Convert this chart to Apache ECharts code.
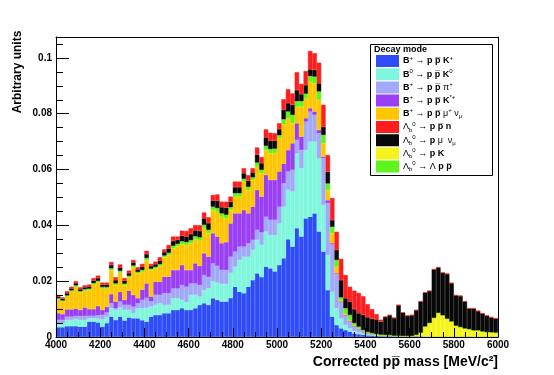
<!DOCTYPE html>
<html>
<head>
<meta charset="utf-8">
<script src="https://cdn.jsdelivr.net/npm/echarts@6/dist/echarts.min.js"></script>
<style>
  html, body { margin: 0; padding: 0; background: #fff; }
  #chart { width: 554px; height: 375px; }
</style>
</head>
<body>
<div id="chart"></div>
<script>
// histogram: 100 bins of 20 MeV from 4000 to 6000, one stacked layer per decay mode
var binStart = 4000, binWidth = 20, nBins = 100;
var binLabels = [];
for (var i = 0; i < nBins; i++) binLabels.push(String(binStart + binWidth * i + binWidth / 2));

var xTicks = [4000, 4200, 4400, 4600, 4800, 5000, 5200, 5400, 5600, 5800, 6000];
var yTicks = [0, 0.02, 0.04, 0.06, 0.08, 0.1];

var bpK = [
  .0035,.0035,.0039,.0039,.0039,.0037,.0037,.0055,.0055,.0052,
  .0037,.0050,.0073,.0061,.0073,.0059,.0070,.0067,.0067,.0060,
  .0055,.0073,.0079,.0079,.0085,.0085,.0097,.0097,.0103,.0097,
  .0097,.0103,.0115,.0121,.0115,.0139,.0133,.0127,.0127,.0140,
  .0180,.0162,.0157,.0180,.0204,.0228,.0215,.0252,.0246,.0235,
  .0258,.0282,.0350,.0324,.0390,.0360,.0425,.0431,.0443,.0378,
  .0306,.0168,.0073,.0043,.0031,.0025,.0019,.0013,.0010,.0008,
  .0006,.0005,.0004,.0003,.0003,.0003,.0002,.0002,.0002,.0002,
  .0002,.0002,.0001,.0001,.0001,.0001,.0001,.0001,.0001,.0001,
  .0001,.0001,.0001,.0001,.0001,.0001,.0001,.0001,.0001,.0001
];
var bpK0 = [
  .0014,.0014,.0022,.0022,.0026,.0024,.0024,.0012,.0012,.0014,
  .0026,.0022,.0030,.0036,.0033,.0038,.0027,.0018,.0036,.0043,
  .0050,.0036,.0036,.0042,.0030,.0030,.0042,.0042,.0030,.0028,
  .0054,.0048,.0030,.0047,.0060,.0061,.0062,.0063,.0063,.0090,
  .0072,.0114,.0131,.0108,.0108,.0120,.0115,.0126,.0119,.0130,
  .0149,.0185,.0177,.0197,.0268,.0245,.0245,.0269,.0257,.0262,
  .0167,.0126,.0089,.0060,.0036,.0018,.0012,.0008,.0006,.0004,
  .0003,.0002,.0002,.0002,.0001,.0001,.0001,.0001,.0001,.0001,
  .0001,.0001,.0001,0,0,0,0,0,0,0,
  0,0,0,0,0,0,0,0,0,0
];
var bpPi = [
  .0012,.0012,.0012,.0012,.0010,.0014,.0014,.0009,.0009,.0012,
  .0016,.0016,.0018,.0006,.0021,.0018,.0018,.0024,.0018,.0030,
  .0035,.0019,.0036,.0030,.0042,.0042,.0035,.0035,.0053,.0055,
  .0041,.0041,.0041,.0054,.0040,.0064,.0060,.0050,.0050,.0058,
  .0054,.0048,.0036,.0048,.0036,.0036,.0045,.0053,.0055,.0055,
  .0060,.0084,.0066,.0078,.0048,.0065,.0102,.0108,.0096,.0090,
  .0168,.0186,.0170,.0125,.0060,.0035,.0026,.0018,.0014,.0010,
  .0007,.0005,.0004,.0003,.0003,.0002,.0002,.0002,.0001,.0001,
  .0001,.0001,.0001,0,0,0,0,0,0,0,
  0,0,0,0,0,0,0,0,0,0
];
var bpKst = [
  .0024,.0021,.0026,.0026,.0027,.0022,.0031,.0024,.0024,.0033,
  .0018,.0020,.0033,.0024,.0035,.0018,.0051,.0042,.0018,.0037,
  .0052,.0017,.0047,.0047,.0059,.0059,.0066,.0066,.0072,.0060,
  .0048,.0072,.0069,.0078,.0073,.0108,.0105,.0096,.0100,.0119,
  .0137,.0119,.0131,.0107,.0119,.0143,.0128,.0150,.0143,.0143,
  .0126,.0070,.0077,.0095,.0060,.0048,.0012,.0012,.0012,.0012,
  .0005,.0010,.0004,0,0,0,0,0,0,0,
  0,0,0,0,0,0,0,0,0,0,
  0,0,0,0,0,0,0,0,0,0,
  0,0,0,0,0,0,0,0,0,0
];
var bpMuNu = [
  .0050,.0045,.0046,.0064,.0078,.0063,.0060,.0068,.0088,.0085,
  .0077,.0066,.0086,.0059,.0069,.0053,.0048,.0099,.0089,.0064,
  .0084,.0095,.0048,.0056,.0070,.0078,.0078,.0086,.0075,.0090,
  .0096,.0086,.0090,.0090,.0084,.0083,.0089,.0095,.0085,.0048,
  .0060,.0060,.0102,.0084,.0096,.0084,.0084,.0089,.0095,.0097,
  .0119,.0141,.0114,.0072,.0059,.0108,.0071,.0095,.0101,.0108,
  .0048,.0036,.0036,.0024,.0005,.0005,.0004,.0003,.0002,.0001,
  0,0,0,0,0,0,0,0,0,0,
  0,0,0,0,0,0,0,0,0,0,
  0,0,0,0,0,0,0,0,0,0
];
var lbpK = [
  0,0,0,0,0,0,0,0,0,0,
  0,0,0,0,0,0,0,0,0,0,
  0,0,0,0,0,0,0,0,0,0,
  0,0,0,0,0,0,0,0,0,0,
  0,0,0,0,0,0,0,0,0,0,
  0,0,0,0,0,0,0,0,0,0,
  0,0,0,0,0,0,0,0,0,0,
  0,0,0,0,0,0,0,0,0,0,
  0,.0004,.0013,.0037,.0050,.0068,.0086,.0077,.0065,.0055,
  .0040,.0035,.0030,.0027,.0023,.0023,.0019,.0017,.0016,.0015
];
var lbLpp = [
  .0004,.0004,.0004,.0004,.0005,.0004,.0005,.0005,.0005,.0005,
  .0005,.0005,.0006,.0006,.0006,.0005,.0005,.0006,.0005,.0006,
  .0007,.0005,.0005,.0007,.0006,.0008,.0009,.0008,.0010,.0010,
  .0011,.0011,.0012,.0012,.0012,.0012,.0013,.0012,.0013,.0010,
  .0012,.0012,.0010,.0011,.0009,.0014,.0012,.0015,.0015,.0015,
  .0011,.0018,.0024,.0030,.0020,.0019,.0017,.0020,.0024,.0030,
  .0030,.0024,.0023,.0024,.0010,.0020,.0018,.0008,.0005,.0002,
  .0002,.0002,.0001,.0001,.0001,.0001,0,0,0,0,
  0,0,0,0,0,0,0,0,0,0,
  0,0,0,0,0,0,0,0,0,0
];
var lbpMuNu = [
  .0006,.0006,.0008,.0007,.0008,.0007,.0007,.0008,.0009,.0010,
  .0008,.0008,.0012,.0012,.0012,.0011,.0010,.0011,.0009,.0012,
  .0014,.0009,.0010,.0013,.0012,.0015,.0017,.0014,.0020,.0020,
  .0022,.0021,.0023,.0023,.0024,.0022,.0026,.0022,.0025,.0020,
  .0022,.0022,.0020,.0022,.0018,.0028,.0024,.0030,.0030,.0028,
  .0022,.0034,.0030,.0036,.0040,.0025,.0031,.0024,.0024,.0029,
  .0030,.0042,.0024,.0036,.0062,.0036,.0048,.0050,.0048,.0055,
  .0053,.0051,.0052,.0046,.0064,.0071,.0063,.0109,.0083,.0072,
  .0074,.0088,.0111,.0121,.0114,.0173,.0162,.0152,.0160,.0137,
  .0108,.0111,.0096,.0074,.0078,.0069,.0064,.0058,.0053,.0050
];
var lbppn = [
  .0006,.0005,.0007,.0006,.0007,.0007,.0007,.0007,.0009,.0009,
  .0008,.0008,.0011,.0010,.0011,.0009,.0009,.0009,.0008,.0010,
  .0012,.0008,.0009,.0012,.0010,.0013,.0016,.0012,.0018,.0020,
  .0021,.0019,.0021,.0021,.0021,.0020,.0023,.0020,.0022,.0018,
  .0020,.0020,.0018,.0020,.0015,.0026,.0022,.0029,.0029,.0027,
  .0021,.0038,.0050,.0041,.0064,.0037,.0050,.0066,.0060,.0074,
  .0078,.0060,.0079,.0065,.0076,.0083,.0053,.0066,.0073,.0066,
  .0047,.0035,.0019,.0007,.0001,.0001,.0001,.0001,.0001,.0001,
  .0001,.0001,.0001,.0001,.0001,.0001,.0001,.0001,.0001,.0001,
  .0001,.0001,.0001,.0001,.0001,.0001,.0001,.0001,.0001,.0001
];

var FONT = '"Liberation Sans", Arial, sans-serif';

// stacking order, bottom to top
var layers = [
  { name: 'B+ ppK+',     data: bpK,     color: '#2e4cf7', label: '{n|B}{s|+}{n| → p p\u0305 K}{s|+}' },
  { name: 'B0 ppK0',     data: bpK0,    color: '#7ff7dc', label: '{n|B}{s|0}{n| → p p\u0305 K}{s|0}' },
  { name: 'B+ pppi+',    data: bpPi,    color: '#a3a9f9', label: '{n|B}{s|+}{n| → p p\u0305 }{g|π}{s|+}' },
  { name: 'B+ ppK*+',    data: bpKst,   color: '#9a3ff6', label: '{n|B}{s|+}{n| → p p\u0305 K}{s|*+}' },
  { name: 'B+ ppmunu',   data: bpMuNu,  color: '#ffc600', label: '{n|B}{s|+}{n| → p p\u0305 }{g|μ}{s|+}{g| ν}{d|μ}' },
  { name: 'Lb pK',       data: lbpK,    color: '#f4f41c', label: '{g|Λ}{d|b}{s|0}{n| → p K}' },
  { name: 'Lb Lpp',      data: lbLpp,   color: '#5ff51c', label: '{g|Λ}{d|b}{s|0}{n| → }{g|Λ}{n| p p\u0305}' },
  { name: 'Lb pmunu',    data: lbpMuNu, color: '#080808', label: '{g|Λ}{d|b}{s|0}{n| → p }{g|μ  ν}{d|μ}' },
  { name: 'Lb ppn',      data: lbppn,   color: '#ff1d1d', label: '{g|Λ}{d|b}{s|0}{n| → p p\u0305 n}' }
];
var legendOrder = ['B+ ppK+', 'B0 ppK0', 'B+ pppi+', 'B+ ppK*+', 'B+ ppmunu', 'Lb ppn', 'Lb pmunu', 'Lb pK', 'Lb Lpp'];
var labelOf = {};
layers.forEach(function (l) { labelOf[l.name] = l.label; });

var chart = echarts.init(document.getElementById('chart'), null, { renderer: 'canvas' });

var series = layers.map(function (l) {
  return {
    name: l.name,
    type: 'bar',
    stack: 'all',
    xAxisIndex: 0,
    yAxisIndex: 0,
    barCategoryGap: '0%',
    data: l.data,
    itemStyle: { color: l.color, borderColor: l.color, borderWidth: 0.5 },
    emphasis: { disabled: true },
    silent: true
  };
});

var axisText = { color: '#000', fontFamily: FONT, fontWeight: 'bold', fontSize: 10 };

var option = {
  animation: false,
  backgroundColor: '#fff',
  grid: { left: 56, right: 56, top: 37, bottom: 38, containLabel: false },
  xAxis: [
    { type: 'category', data: binLabels, boundaryGap: true, show: false },
    {
      type: 'value', position: 'bottom', min: xTicks[0], max: xTicks[xTicks.length - 1], interval: 200, z: 10,
      axisLine: { show: true, lineStyle: { color: '#000', width: 1 } },
      axisTick: { show: true, inside: true, length: 9, lineStyle: { color: '#000' } },
      minorTick: { show: true, splitNumber: 4, length: 5, lineStyle: { color: '#000' } },
      splitLine: { show: false },
      axisLabel: Object.assign({
        margin: 3,
        formatter: function (v) { return String(v); }
      }, axisText)
    },
    {
      type: 'value', position: 'top', min: 4000, max: 6000, z: 10,
      axisLine: { show: true, lineStyle: { color: '#000', width: 1 } },
      axisTick: { show: false }, axisLabel: { show: false }, splitLine: { show: false }
    }
  ],
  yAxis: [
    {
      type: 'value', min: 0, max: 0.1075, interval: 0.02, z: 10,
      axisLine: { show: true, lineStyle: { color: '#000', width: 1 } },
      axisTick: { show: true, inside: true, length: 13, lineStyle: { color: '#000' } },
      minorTick: { show: true, splitNumber: 4, length: 7, lineStyle: { color: '#000' } },
      splitLine: { show: false },
      axisLabel: Object.assign({
        margin: 4, showMaxLabel: false,
        formatter: function (v) {
          for (var j = 0; j < yTicks.length; j++) {
            if (Math.abs(v - yTicks[j]) < 1e-9) return String(yTicks[j]);
          }
          return '';
        }
      }, axisText)
    },
    {
      type: 'value', position: 'right', min: 0, max: 0.1075, z: 10,
      axisLine: { show: true, lineStyle: { color: '#000', width: 1 } },
      axisTick: { show: false }, axisLabel: { show: false }, splitLine: { show: false }
    }
  ],
  legend: {
    data: legendOrder,
    orient: 'vertical',
    left: 376, top: 55,
    padding: 0,
    itemWidth: 21, itemHeight: 10, itemGap: 1.2,
    icon: 'rect',
    selectedMode: false,
    z: 20,
    formatter: function (name) { return labelOf[name]; },
    textStyle: {
      color: '#000',
      rich: {
        n: { fontFamily: FONT, fontWeight: 'bold', fontSize: 9, lineHeight: 12, color: '#000' },
        g: { fontFamily: FONT, fontSize: 9, lineHeight: 12, color: '#000' },
        s: { fontFamily: FONT, fontSize: 6, lineHeight: 6, verticalAlign: 'top', color: '#000' },
        d: { fontFamily: FONT, fontSize: 6, lineHeight: 6, verticalAlign: 'bottom', color: '#000' }
      }
    }
  },
  graphic: [
    {
      type: 'rect', z: 15, silent: true,
      shape: { x: 370.5, y: 44.5, width: 122, height: 131 },
      style: { fill: '#fff', stroke: '#000', lineWidth: 1 }
    },
    {
      type: 'text', z: 16, silent: true, x: 374, y: 50,
      style: { text: 'Decay mode', fontFamily: FONT, fontWeight: 'bold', fontSize: 9, fill: '#000', align: 'left', verticalAlign: 'middle' }
    },
    {
      type: 'text', z: 16, silent: true, x: 498, y: 362,
      style: { text: 'Corrected pp\u0305 mass [MeV/c²]', fontFamily: FONT, fontWeight: 'bold', fontSize: 14, fill: '#000', align: 'right', verticalAlign: 'middle' }
    },
    {
      type: 'text', z: 16, silent: true, x: 18, y: 72, rotation: Math.PI / 2,
      style: { text: 'Arbitrary units', fontFamily: FONT, fontWeight: 'bold', fontSize: 12, fill: '#000', align: 'center', verticalAlign: 'middle' }
    }
  ],
  series: series
};

chart.setOption(option);
</script>
</body>
</html>
